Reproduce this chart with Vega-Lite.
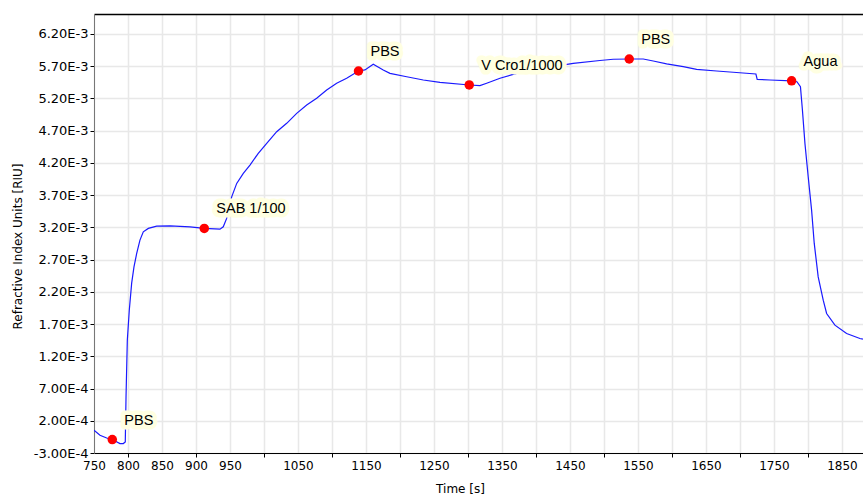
{
  "$schema": "https://vega.github.io/schema/vega-lite/v6.json",
  "width": 769,
  "height": 439,
  "autosize": "none",
  "padding": {"left": 94, "top": 14, "right": 0, "bottom": 44},
  "background": "white",
  "config": {"view": {"stroke": null}, "font": "DejaVu Sans", "axis": {"labelOverlap": false, "labelBound": false, "labelFlush": false}, "axisY": {"labelOverlap": false}, "axisLeft": {"labelOverlap": false}},
  "datasets": {
    "series": [
      {"t": 750, "riu": 0.000052}, {"t": 758.8, "riu": -0.000025}, {"t": 768.7, "riu": -0.000067},
      {"t": 776.9, "riu": -0.000092}, {"t": 788.2, "riu": -0.000154}, {"t": 793.1, "riu": -0.000154},
      {"t": 796.0, "riu": -0.000129}, {"t": 797.1, "riu": 0.000569}, {"t": 799.0, "riu": 0.00145},
      {"t": 801.9, "riu": 0.001915}, {"t": 805.4, "riu": 0.002335}, {"t": 808.8, "riu": 0.002588},
      {"t": 812.8, "riu": 0.002796}, {"t": 817.6, "riu": 0.003002}, {"t": 822.5, "riu": 0.003131},
      {"t": 829.9, "riu": 0.003184}, {"t": 842.2, "riu": 0.00322}, {"t": 861.8, "riu": 0.003224},
      {"t": 891.2, "riu": 0.003209}, {"t": 912.2, "riu": 0.003184}, {"t": 935.3, "riu": 0.003173},
      {"t": 940.1, "riu": 0.003209}, {"t": 945.1, "riu": 0.003339}, {"t": 952.5, "riu": 0.003674},
      {"t": 959.9, "riu": 0.003882}, {"t": 969.6, "riu": 0.004038}, {"t": 979.4, "riu": 0.004167},
      {"t": 991.6, "riu": 0.004348}, {"t": 1004.0, "riu": 0.004503}, {"t": 1018.7, "riu": 0.004684},
      {"t": 1033.4, "riu": 0.004814}, {"t": 1048.1, "riu": 0.004969}, {"t": 1062.8, "riu": 0.005098},
      {"t": 1077.5, "riu": 0.005202}, {"t": 1092.2, "riu": 0.005331}, {"t": 1106.9, "riu": 0.005435},
      {"t": 1121.6, "riu": 0.005513}, {"t": 1139.0, "riu": 0.005626}, {"t": 1148.5, "riu": 0.005642},
      {"t": 1160.7, "riu": 0.00573}, {"t": 1175.4, "riu": 0.005642}, {"t": 1185.3, "riu": 0.00559},
      {"t": 1209.9, "riu": 0.005537}, {"t": 1234.3, "riu": 0.005486}, {"t": 1258.8, "riu": 0.00545},
      {"t": 1301.9, "riu": 0.005409}, {"t": 1317.6, "riu": 0.005398}, {"t": 1327.5, "riu": 0.005435},
      {"t": 1347.1, "riu": 0.005513}, {"t": 1371.6, "riu": 0.00559}, {"t": 1396.0, "riu": 0.005642},
      {"t": 1425.4, "riu": 0.005693}, {"t": 1454.8, "riu": 0.005745}, {"t": 1494.1, "riu": 0.005789},
      {"t": 1513.7, "riu": 0.005808}, {"t": 1537.2, "riu": 0.005812}, {"t": 1557.8, "riu": 0.005812},
      {"t": 1572.5, "riu": 0.005781}, {"t": 1592.2, "riu": 0.005735}, {"t": 1616.6, "riu": 0.005693},
      {"t": 1636.3, "riu": 0.005652}, {"t": 1665.7, "riu": 0.005626}, {"t": 1690.1, "riu": 0.005606},
      {"t": 1723.5, "riu": 0.005579}, {"t": 1725.4, "riu": 0.005497}, {"t": 1744.1, "riu": 0.005486},
      {"t": 1776.0, "riu": 0.005474}, {"t": 1783.8, "riu": 0.00546}, {"t": 1789.0, "riu": 0.005382},
      {"t": 1791.9, "riu": 0.00502}, {"t": 1795.6, "riu": 0.004503}, {"t": 1800.4, "riu": 0.003985},
      {"t": 1805.4, "riu": 0.003468}, {"t": 1809.3, "riu": 0.002951}, {"t": 1815.1, "riu": 0.002432},
      {"t": 1822.5, "riu": 0.002071}, {"t": 1827.5, "riu": 0.001864}, {"t": 1839.7, "riu": 0.001683},
      {"t": 1856.9, "riu": 0.001554}, {"t": 1876.5, "riu": 0.001476}, {"t": 1880.9, "riu": 0.001465}
    ],
    "events": [
      {"t": 776.9, "riu": -0.000092, "label": "PBS"},
      {"t": 912.2, "riu": 0.003184, "label": "SAB 1/100"},
      {"t": 1139.0, "riu": 0.005626, "label": "PBS"},
      {"t": 1301.9, "riu": 0.005409, "label": "V Cro1/1000"},
      {"t": 1537.2, "riu": 0.005812, "label": "PBS"},
      {"t": 1776.0, "riu": 0.005474, "label": "Agua"}
    ]
  },
  "resolve": {"axis": {"x": "independent", "y": "independent"}},
  "layer": [
    {
      "data": {"name": "series"},
      "mark": {"type": "line", "color": "#1a1aff", "strokeWidth": 1.2, "clip": true},
      "encoding": {
        "x": {
          "field": "t", "type": "quantitative",
          "scale": {"domain": [750, 1881], "nice": false, "zero": false},
          "axis": {
            "values": [750, 800, 850, 900, 950, 1000, 1050, 1100, 1150, 1200, 1250, 1300, 1350, 1400, 1450, 1500, 1550, 1600, 1650, 1700, 1750, 1800, 1850],
            "format": "d",
            "labelExpr": "indexof([750,800,850,900,950,1050,1150,1250,1350,1450,1550,1650,1750,1850], datum.value) >= 0 ? datum.label : ''",
            "labelFont": "DejaVu Sans", "labelFontSize": 12, "labelColor": "#000",
            "labelOverlap": false, "labelFlush": false, "labelBound": false, "labelPadding": 3,
            "tickSize": 4, "tickColor": "#000",
            "tickOpacity": {"condition": {"test": "datum.value % 100 === 0", "value": 1}, "value": 0},
            "domainColor": "#000", "domainWidth": 1,
            "grid": true, "gridColor": "#e8e8e8", "gridWidth": 1.5,
            "title": "Time [s]", "titleFont": "DejaVu Sans", "titleFontSize": 12, "titleFontWeight": "normal",
            "titleColor": "#000", "titleX": 366, "titleY": 30, "titleAlign": "center", "titleBaseline": "top"
          }
        },
        "y": {
          "field": "riu", "type": "quantitative",
          "scale": {"domain": [-0.0003, 0.00651], "nice": false, "zero": false},
          "axis": {
            "values": [-0.0003, 0.0002, 0.0007, 0.0012, 0.0017, 0.0022, 0.0027, 0.0032, 0.0037, 0.0042, 0.0047, 0.0052, 0.0057, 0.0062],
            "labelExpr": "replace(replace(format(datum.value, '.2e'), 'e', 'E'), '\u2212', '-')",
            "labelFont": "DejaVu Sans", "labelFontSize": 13, "labelColor": "#000",
            "labelOverlap": false, "labelFlush": false, "labelBound": false, "labelPadding": 2, "labelSeparation": 0,
            "tickSize": 4, "tickColor": "#000",
            "domainColor": "#777", "domainWidth": 1,
            "grid": true, "gridColor": "#e8e8e8", "gridWidth": 1.5,
            "title": "Refractive Index Units [RIU]", "titleFont": "DejaVu Sans", "titleFontSize": 12, "titleFontWeight": "normal",
            "titleColor": "#000", "titleX": -77, "titleY": 232, "titleAngle": -90, "titleAlign": "center", "titleBaseline": "middle"
          }
        }
      }
    },
    {
      "data": {"name": "events"},
      "mark": {"type": "circle", "color": "#ff0000", "opacity": 1, "size": 90},
      "encoding": {
        "x": {"field": "t", "type": "quantitative", "axis": null},
        "y": {"field": "riu", "type": "quantitative", "axis": null}
      }
    },
    {
      "data": {"name": "events"},
      "mark": {"type": "text", "align": "left", "baseline": "middle", "dx": 12, "dy": -19, "font": "Liberation Sans", "fontSize": 14.5, "fill": "#ffffe1", "stroke": "#ffffe1", "strokeWidth": 9, "strokeJoin": "round"},
      "encoding": {
        "x": {"field": "t", "type": "quantitative", "axis": null},
        "y": {"field": "riu", "type": "quantitative", "axis": null},
        "text": {"field": "label"}
      }
    },
    {
      "data": {"name": "events"},
      "mark": {"type": "text", "align": "left", "baseline": "middle", "dx": 12, "dy": -19, "font": "Liberation Sans", "fontSize": 14.5, "color": "#000"},
      "encoding": {
        "x": {"field": "t", "type": "quantitative", "axis": {"orient": "top", "labels": false, "ticks": false, "grid": false, "domain": true, "domainColor": "#000", "domainWidth": 1.5, "title": null}},
        "y": {"field": "riu", "type": "quantitative", "axis": null},
        "text": {"field": "label"}
      }
    }
  ]
}
